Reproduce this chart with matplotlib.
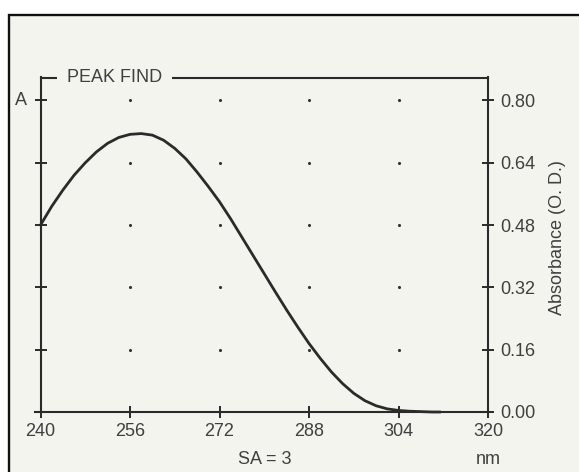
import matplotlib
matplotlib.use("Agg")
import matplotlib.pyplot as plt
from matplotlib.patches import Rectangle

# ---- data ----
wavelength_nm = [240, 242, 244, 246, 248, 250, 252, 254, 256, 258, 260, 262, 264,
                 266, 268, 270, 272, 274, 276, 278, 280, 282, 284, 286, 288, 290,
                 292, 294, 296, 298, 300, 302, 304, 306, 308, 310, 311.5]
absorbance = [0.480, 0.528, 0.570, 0.608, 0.640, 0.668, 0.690, 0.705, 0.713, 0.715,
              0.711, 0.698, 0.677, 0.650, 0.616, 0.579, 0.540, 0.496, 0.449, 0.402,
              0.355, 0.308, 0.262, 0.218, 0.176, 0.138, 0.103, 0.073, 0.048, 0.029,
              0.016, 0.008, 0.004, 0.002, 0.001, 0.000, 0.000]
x_ticks = [240, 256, 272, 288, 304, 320]
y_ticks = [0.00, 0.16, 0.32, 0.48, 0.64, 0.80]
y_tick_labels = ["0.00", "0.16", "0.32", "0.48", "0.64", "0.80"]
title_text = "PEAK FIND"
x_label = "SA = 3"
x_unit = "nm"
y_label = "Absorbance (O. D.)"
left_label = "A"

# ---- style ----
plt.rcParams["font.family"] = ["Liberation Sans", "DejaVu Sans"]
FS = 13
paper = "#f4f4ef"
ink = "#2a2a2a"
text_col = "#3f3f3f"

W, H = 579, 472
fig = plt.figure(figsize=(W / 100, H / 100), dpi=100, facecolor="white")

# outer scanned-page border (left & top visible)
border = Rectangle((9 / W, -0.2), 1.3, 1.2 - 14.7 / H, transform=fig.transFigure,
                   facecolor=paper, edgecolor="#111111", linewidth=1.7, zorder=0)
fig.add_artist(border)

ax = fig.add_axes([40.5 / W, 60 / H, (488 - 40.5) / W, (412 - 77.5) / H])
ax.set_facecolor("none")
ax.set_xlim(240, 320)
ax.set_ylim(0, (412 - 77.5) / 389.4)

# curve
ax.plot(wavelength_nm, absorbance, color=ink, linewidth=2.0, solid_capstyle="round",
        solid_joinstyle="round", zorder=3, clip_on=False)

# dotted grid (interior intersections)
gx = [x for x in x_ticks[1:-1] for y in y_ticks[1:]]
gy = [y for x in x_ticks[1:-1] for y in y_ticks[1:]]
ax.scatter(gx, gy, s=5, color="#333333", zorder=2, linewidths=0)

# spines
for s in ["left", "right", "top", "bottom"]:
    ax.spines[s].set_color(ink)
    ax.spines[s].set_linewidth(1.5)
ax.spines["bottom"].set_bounds(239.0, 320.3)

# ticks
ax.set_xticks(x_ticks)
ax.set_xticklabels([str(t) for t in x_ticks])
ax.set_yticks(y_ticks)
ax.set_yticklabels(y_tick_labels)
ax.tick_params(axis="both", direction="inout", length=8, width=1.4, color=ink,
               labelsize=FS, labelcolor=text_col)
ax.tick_params(axis="x", pad=4)
ax.tick_params(axis="y", left=True, right=True, labelleft=False, labelright=True, pad=4.5)

# title embedded in the top frame
ax.text(0.06, 1.0, title_text, transform=ax.transAxes, ha="left", va="center",
        fontsize=FS, color=text_col, zorder=5,
        bbox=dict(boxstyle="square,pad=0.55", facecolor=paper, edgecolor="none"))

# left "A" label at top tick
ax.annotate(left_label, xy=(0, y_ticks[-1]), xycoords=("axes fraction", "data"),
            xytext=(-10, 0), textcoords="offset points", ha="right", va="center",
            fontsize=FS, color=text_col)

# x label and unit
ax.annotate(x_label, xy=(0.5, 0), xycoords="axes fraction", xytext=(0, -34),
            textcoords="offset points", ha="center", va="center", fontsize=FS,
            color=text_col)
ax.annotate(x_unit, xy=(1, 0), xycoords="axes fraction", xytext=(0, -34),
            textcoords="offset points", ha="center", va="center", fontsize=FS,
            color=text_col)

# right y label
ax.annotate(y_label, xy=(1, 0.52), xycoords="axes fraction", xytext=(50, 0),
            textcoords="offset points", ha="center", va="center", rotation=90,
            fontsize=FS, color=text_col)

fig.savefig("out.png", dpi=100, facecolor="white")
